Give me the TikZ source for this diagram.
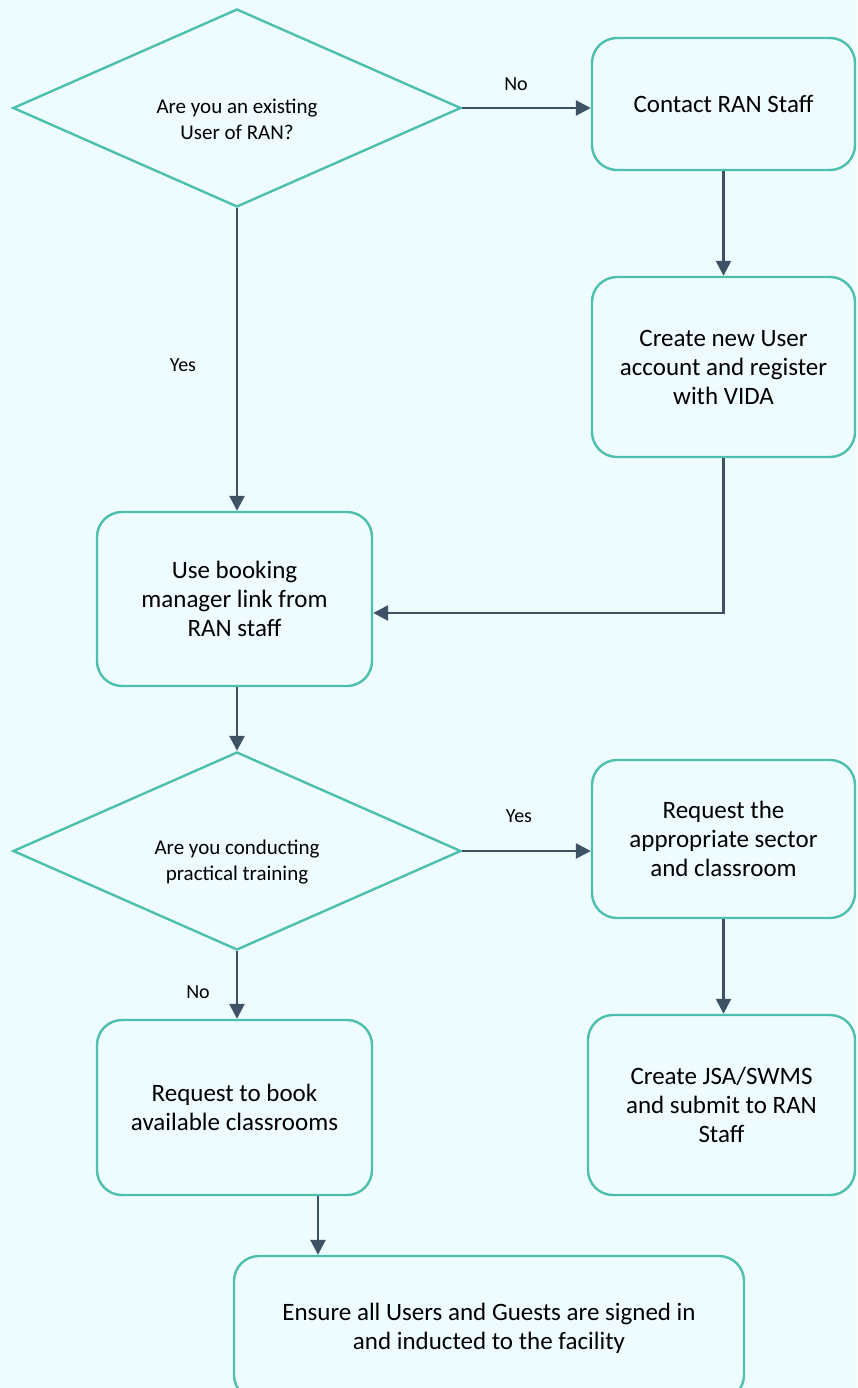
\documentclass[tikz,border=0pt]{standalone}
\usepackage{fontspec}
\setmainfont{Carlito}
\usetikzlibrary{shapes.geometric,arrows.meta}
\definecolor{bgcol}{HTML}{EFFCFF}
\definecolor{tealline}{HTML}{4DBFAE}
\definecolor{arrcol}{HTML}{3E5266}

\begin{document}
\begin{tikzpicture}[x=1pt,y=-1pt,
  stepbox/.style={draw=tealline,line width=2.4pt,rounded corners=25pt,align=center,
    font=\fontsize{25}{29}\selectfont,inner sep=0pt},
  decide/.style={draw=tealline,line width=2.4pt,diamond,aspect=2.26,inner sep=0pt,
    minimum width=448pt,minimum height=198pt},
  question/.style={align=center,font=\fontsize{21}{26}\selectfont,inner sep=0pt},
  arr/.style={draw=arrcol,line width=2.6pt,-{Triangle[length=15pt,width=15pt]}},
  lbl/.style={font=\fontsize{20}{24}\selectfont}]
\useasboundingbox[fill=bgcol] (0,0) rectangle (857,1388);
% decisions
\node[decide] (exist) at (237,108) {};
\node[question] (existq) at (237,119) {Are you an existing\\User of RAN?};
\node[decide] (train) at (237,851) {};
\node[question] (trainq) at (237,862) {Are you conducting\\practical training};
% steps
\node[stepbox,minimum width=263pt,minimum height=132pt] (contact) at (723.5,104) {Contact RAN Staff};
\node[stepbox,minimum width=263pt,minimum height=180pt] (create) at (723.5,367) {Create new User\\account and register\\with VIDA};
\node[stepbox,minimum width=275pt,minimum height=174pt] (booking) at (234.5,599) {Use booking\\manager link from\\RAN staff};
\node[stepbox,minimum width=263pt,minimum height=158pt] (sector) at (723.5,839) {Request the\\appropriate sector\\and classroom};
\node[stepbox,minimum width=267pt,minimum height=180pt] (jsa) at (721.5,1105) {Create JSA/SWMS\\and submit to RAN\\Staff};
\node[stepbox,minimum width=275pt,minimum height=175pt] (rooms) at (234.5,1107.5) {Request to book\\available classrooms};
\node[stepbox,minimum width=510pt,minimum height=144pt] (ensure) at (489,1328) {Ensure all Users and Guests are signed in\\and inducted to the facility};
% labels
\node[lbl] (no1) at (516,84) {No};
\node[lbl] (yes1) at (183,365) {Yes};
\node[lbl] (yes2) at (519,816) {Yes};
\node[lbl] (no2) at (198,992) {No};
% connectors
\coordinate (bend) at (723.5,613);
\draw[arr] (exist.east) -- (exist.east -| contact.west);
\draw[arr] (contact.south) -- (create.north);
\draw[arr] (exist.south) -- (exist.south |- booking.north);
\draw[arr] (create.south) -- (bend) -- (bend -| booking.east);
\draw[arr] (exist.south |- booking.south) -- (train.north);
\draw[arr] (train.east) -- (train.east -| sector.west);
\draw[arr] (sector.south) -- (sector.south |- jsa.north);
\draw[arr] (train.south) -- (train.south |- rooms.north);
\draw[arr] ([xshift=83.5pt]rooms.south) -- ([xshift=83.5pt]rooms.south |- ensure.north);
\end{tikzpicture}
\end{document}
